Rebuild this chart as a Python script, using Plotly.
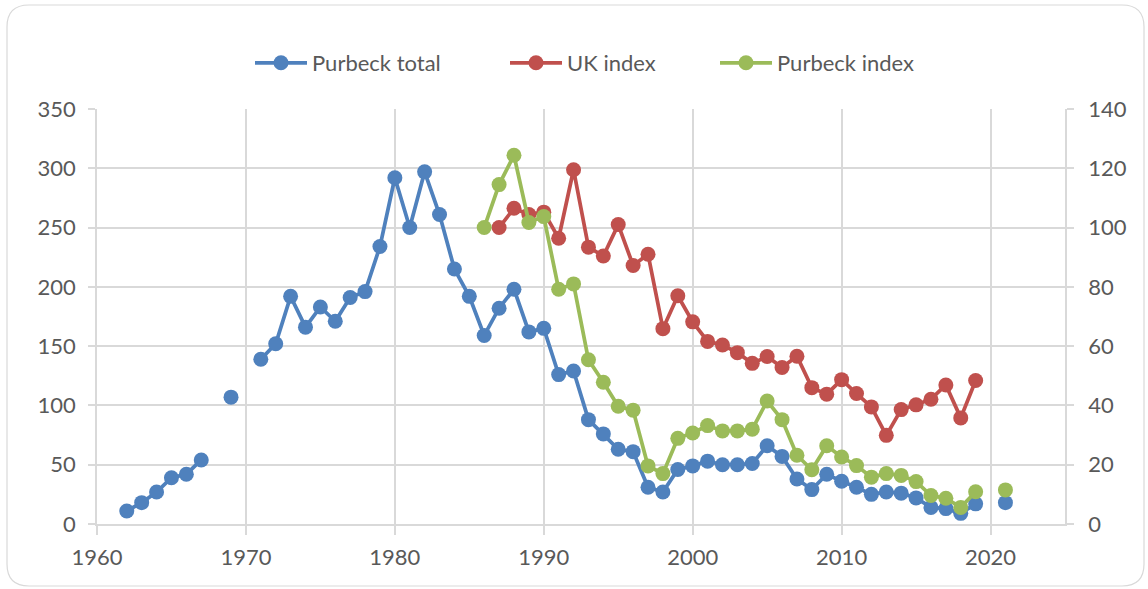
import plotly.graph_objects as go

# ---- data ----
total_years = list(range(1962, 2022))
purbeck_total = [11, 18, 27, 39, 42, 54, None, 107, None, 139, 152, 192, 166, 183, 171, 191,
                 196, 234, 292, 250, 297, 261, 215, 192, 159, 182, 198, 162, 165, 126, 129,
                 88, 76, 63, 61, 31, 27, 46, 49, 53, 50, 50, 51, 66, 57, 38, 29, 42, 36, 31,
                 25, 27, 26, 22, 14, 13, 9, 17, None, 18]

uk_years = list(range(1987, 2020))
uk_index = [100, 106.5, 104.4, 105.2, 96.4, 119.5, 93.4, 90.4, 101, 87.2, 91, 65.9, 77,
            68.2, 61.6, 60.4, 57.8, 54.2, 56.5, 52.8, 56.6, 46, 43.8, 48.7, 44, 39.5, 29.9,
            38.6, 40.2, 42.1, 46.9, 35.8, 48.4]

pi_years = list(range(1986, 2022))
purbeck_index = [100, 114.5, 124.4, 101.7, 103.7, 79.2, 81, 55.4, 47.8, 39.7, 38.4, 19.6,
                 17, 28.9, 30.7, 33.2, 31.4, 31.4, 32, 41.5, 35.2, 23.2, 18.3, 26.4, 22.6,
                 19.7, 15.8, 17, 16.4, 14.3, 9.6, 8.7, 5.6, 10.9, None, 11.5]

x_ticks = [1960, 1970, 1980, 1990, 2000, 2010, 2020]

FONT = "Lato"
FS = 22
TXT = "#595959"
GRID = "#d9d9d9"
W, H = 1148, 589
L, R, T, B = 97, 1065, 109, 524

fig = go.Figure()
series = [
    ("Purbeck total", total_years, purbeck_total, "#4F81BD", "y", "legend"),
    ("UK index", uk_years, uk_index, "#C0504D", "y2", "legend2"),
    ("Purbeck index", pi_years, purbeck_index, "#9BBB59", "y2", "legend3"),
]
for name, xs, ys, col, yax, lg in series:
    fig.add_trace(go.Scatter(
        x=xs, y=ys, name=name, mode="lines+markers", yaxis=yax, legend=lg,
        line=dict(color=col, width=3.75), marker=dict(color=col, size=15),
        connectgaps=False, cliponaxis=False))

pw, ph = R - L, B - T
def px(x):
    return (x - L) / pw
def py(y):
    return (B - y) / ph

# rounded outer border
x0, x1, y0, y1, r = 7, 1144, 5, 586, 22
path = (f"M {px(x0+r)},{py(y0)} L {px(x1-r)},{py(y0)} Q {px(x1)},{py(y0)} {px(x1)},{py(y0+r)} "
        f"L {px(x1)},{py(y1-r)} Q {px(x1)},{py(y1)} {px(x1-r)},{py(y1)} "
        f"L {px(x0+r)},{py(y1)} Q {px(x0)},{py(y1)} {px(x0)},{py(y1-r)} "
        f"L {px(x0)},{py(y0+r)} Q {px(x0)},{py(y0)} {px(x0+r)},{py(y0)} Z")
fig.add_shape(type="path", path=path, xref="paper", yref="paper",
              line=dict(color=GRID, width=1.2), layer="below")

leg_common = dict(orientation="h", xanchor="left", yanchor="middle", itemwidth=52,
                  font=dict(family=FONT, size=FS, color=TXT), bgcolor="rgba(0,0,0,0)")
fig.update_layout(
    width=W, height=H,
    margin=dict(l=L, r=W - R, t=T, b=H - B),
    paper_bgcolor="white", plot_bgcolor="white",
    font=dict(family=FONT, size=FS, color=TXT),
    showlegend=True,
    legend=dict(x=px(250), y=py(63), **leg_common),
    legend2=dict(x=px(505), y=py(63), **leg_common),
    legend3=dict(x=px(715), y=py(63), **leg_common),
    xaxis=dict(range=[1960, 2025], tickvals=x_ticks, showgrid=True, gridcolor=GRID,
               gridwidth=1.5, showline=True, linecolor=GRID, linewidth=1.5,
               ticks="outside", ticklen=9, tickcolor=GRID, tickwidth=1.5,
               ticklabelstandoff=4,
               zeroline=False, tickfont=dict(family=FONT, size=FS, color=TXT)),
    yaxis=dict(range=[0, 350], dtick=50, showgrid=True, gridcolor=GRID, gridwidth=1.5,
               showline=True, linecolor=GRID, linewidth=1.5, ticks="outside", ticklen=7,
               tickcolor=GRID, tickwidth=1.5, zeroline=False,
               ticklabelstandoff=8, tickfont=dict(family=FONT, size=FS, color=TXT)),
    yaxis2=dict(range=[0, 140], dtick=20, overlaying="y", side="right", showgrid=False,
                showline=True, linecolor=GRID, linewidth=1.5, ticks="outside", ticklen=7,
                tickcolor=GRID, tickwidth=1.5, zeroline=False,
                ticklabelstandoff=10, tickfont=dict(family=FONT, size=FS, color=TXT)),
)

fig.write_html("out.html", config={"displayModeBar": False},
               post_script="document.body.style.margin='0';document.body.style.overflow='hidden';")
